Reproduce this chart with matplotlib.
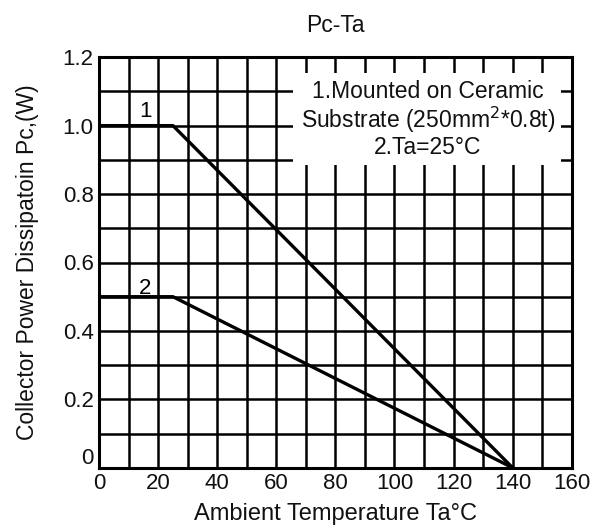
import matplotlib.pyplot as plt
import matplotlib.transforms as mtransforms
import numpy as np

plt.rcParams["font.family"] = ["Liberation Sans", "DejaVu Sans"]

# derating curves (Ta in degC, Pc in W)
ta_1 = [0, 25, 140]
pc_1 = [1.0, 1.0, 0.0]
ta_2 = [0, 25, 140]
pc_2 = [0.5, 0.5, 0.0]

x_ticks = [0, 20, 40, 60, 80, 100, 120, 140, 160]
y_ticks = [0, 0.2, 0.4, 0.6, 0.8, 1.0, 1.2]
y_tick_labels = ["0", "0.2", "0.4", "0.6", "0.8", "1.0", "1.2"]

fig = plt.figure(figsize=(5.9, 5.25), dpi=100)
ax = fig.add_axes([0.168, 0.109, 0.801, 0.782])

ax.set_xlim(0, 160)
ax.set_ylim(0, 1.2)
ax.set_xticks(x_ticks)
ax.set_xticks(np.arange(0, 161, 10), minor=True)
ax.set_yticks(y_ticks)
ax.set_yticklabels(y_tick_labels)
ax.set_yticks(np.arange(0, 1.21, 0.1), minor=True)
ax.tick_params(which="both", length=0, labelsize=16, colors="#111111")
ax.tick_params(axis="x", pad=4)
ax.tick_params(axis="y", pad=4)
ax.grid(which="both", color="black", linewidth=1.8)
for s in ax.spines.values():
    s.set_linewidth(2.2)

# lift the y "0" so it clears the x "0" (as in the original sheet)
fig.canvas.draw()
ylab0 = ax.get_yticklabels()[0]
ylab0.set_transform(ylab0.get_transform() + mtransforms.ScaledTranslation(0, 12 / 100, fig.dpi_scale_trans))

ax.plot(ta_1, pc_1, color="black", linewidth=2.4, zorder=3)
ax.plot(ta_2, pc_2, color="black", linewidth=2.4, zorder=3)
ax.text(15.6, 1.04, "1", fontsize=16, ha="center", va="center", zorder=4)
ax.text(15.6, 0.525, "2", fontsize=16, ha="center", va="center", zorder=4)

# note box covers the grid
ax.fill_between([65.5, 156.5], 0.885, 1.153, color="white", zorder=2.5, linewidth=0)
ax.text(111.3, 1.018, "1.Mounted on Ceramic\nSubstrate (250mm$^{2}$*0.8t)\n2.Ta=25\u00b0C",
        fontsize=16.5, ha="center", va="center", linespacing=1.05, zorder=4,
        color="#111111")

ax.set_xlabel("Ambient Temperature Ta\u00b0C", fontsize=17, labelpad=6, color="#111111")
ax.set_ylabel("Collector Power Dissipatoin Pc,(W)", fontsize=16.5, labelpad=17, color="#111111")
ax.set_title("Pc-Ta", fontsize=16.5, pad=18, color="#111111")

fig.savefig("out.png", dpi=100)
